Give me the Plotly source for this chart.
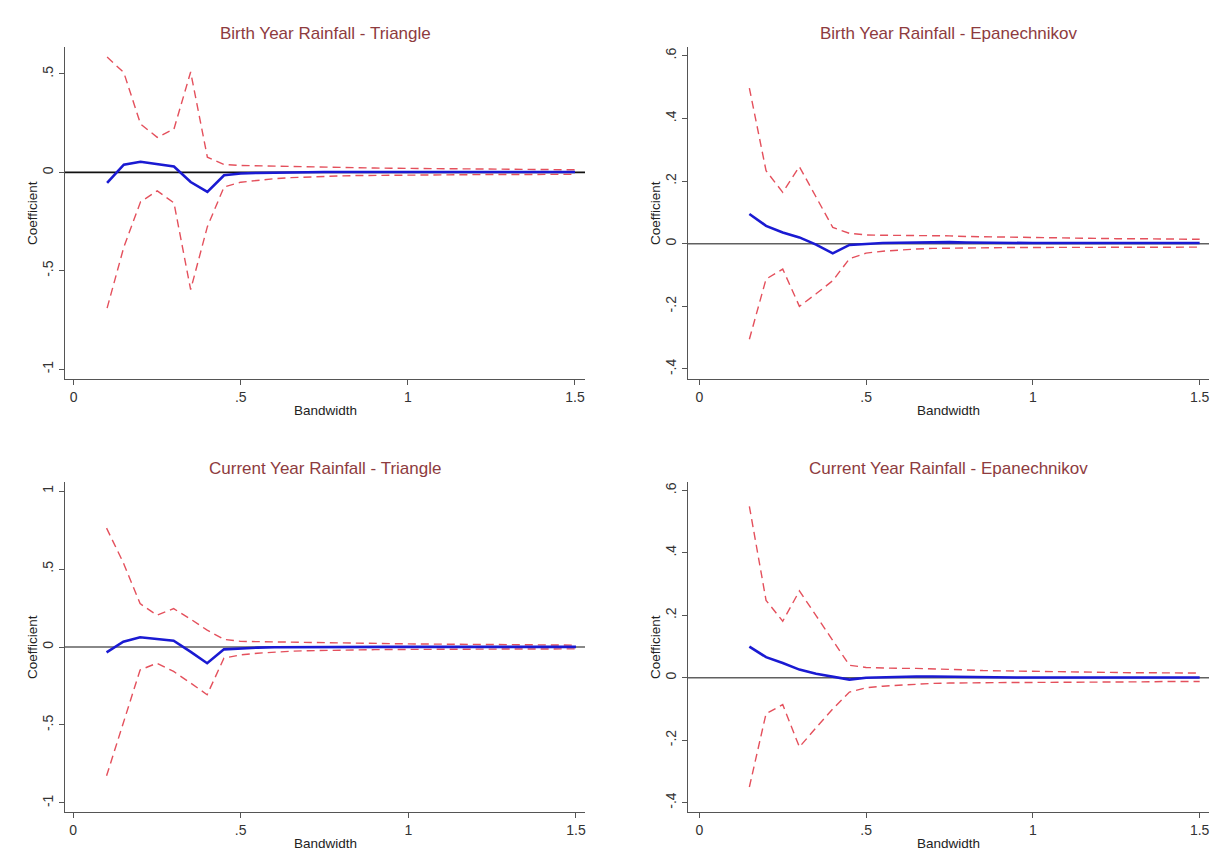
import plotly.graph_objects as go

# ---------------- data ----------------
bw_tri = [0.10, 0.15, 0.20, 0.25, 0.30, 0.35, 0.40, 0.45, 0.50, 0.55, 0.60, 0.65, 0.70, 0.75,
          0.80, 0.85, 0.90, 0.95, 1.00, 1.05, 1.10, 1.15, 1.20, 1.25, 1.30, 1.35, 1.40, 1.45, 1.50]
bw_epa = [0.15, 0.20, 0.25, 0.30, 0.35, 0.40, 0.45, 0.50, 0.55, 0.60, 0.65, 0.70, 0.75,
          0.80, 0.85, 0.90, 0.95, 1.00, 1.05, 1.10, 1.15, 1.20, 1.25, 1.30, 1.35, 1.40, 1.45, 1.50]

# Birth year rainfall - Triangle
birth_tri_coef = [-0.054, 0.039, 0.054, 0.043, 0.030, -0.049, -0.099, -0.015, -0.006, -0.003, -0.001, 0.000,
                  0.001, 0.002, 0.002, 0.002, 0.002, 0.002, 0.002, 0.002, 0.002, 0.002, 0.002, 0.002,
                  0.002, 0.002, 0.002, 0.002, 0.002]
birth_tri_hi = [0.586, 0.507, 0.246, 0.178, 0.220, 0.510, 0.077, 0.040, 0.035, 0.033, 0.031, 0.030,
                0.029, 0.027, 0.025, 0.023, 0.022, 0.021, 0.020, 0.019, 0.018, 0.017, 0.016, 0.016,
                0.015, 0.014, 0.014, 0.013, 0.013]
birth_tri_lo = [-0.690, -0.380, -0.150, -0.094, -0.155, -0.596, -0.276, -0.074, -0.050, -0.040, -0.032,
                -0.027, -0.023, -0.020, -0.018, -0.016, -0.015, -0.014, -0.013, -0.013, -0.012, -0.012,
                -0.011, -0.011, -0.011, -0.010, -0.010, -0.010, -0.010]

# Birth year rainfall - Epanechnikov
birth_epa_coef = [0.095, 0.057, 0.036, 0.020, -0.003, -0.031, -0.004, 0.000, 0.002, 0.003, 0.004, 0.005,
                  0.005, 0.004, 0.003, 0.003, 0.003, 0.002, 0.002, 0.002, 0.002, 0.002, 0.002, 0.002,
                  0.002, 0.002, 0.002, 0.002]
birth_epa_hi = [0.497, 0.233, 0.164, 0.246, 0.149, 0.052, 0.033, 0.028, 0.027, 0.027, 0.026, 0.026,
                0.025, 0.023, 0.022, 0.021, 0.020, 0.019, 0.019, 0.018, 0.017, 0.017, 0.016, 0.016,
                0.015, 0.015, 0.014, 0.014]
birth_epa_lo = [-0.305, -0.113, -0.081, -0.200, -0.160, -0.118, -0.048, -0.030, -0.024, -0.020, -0.017,
                -0.015, -0.014, -0.013, -0.013, -0.013, -0.012, -0.012, -0.012, -0.012, -0.012, -0.012,
                -0.012, -0.012, -0.011, -0.011, -0.011, -0.011]

# Current year rainfall - Triangle
curr_tri_coef = [-0.034, 0.034, 0.062, 0.050, 0.040, -0.030, -0.104, -0.015, -0.008, -0.004, -0.002, -0.001,
                 0.000, 0.001, 0.001, 0.001, 0.001, 0.001, 0.001, 0.001, 0.001, 0.001, 0.001, 0.001,
                 0.001, 0.001, 0.001, 0.001, 0.001]
curr_tri_hi = [0.762, 0.540, 0.278, 0.204, 0.246, 0.180, 0.108, 0.049, 0.036, 0.034, 0.032, 0.031,
               0.030, 0.028, 0.026, 0.024, 0.022, 0.021, 0.020, 0.019, 0.018, 0.017, 0.016, 0.015,
               0.014, 0.013, 0.013, 0.012, 0.012]
curr_tri_lo = [-0.826, -0.490, -0.147, -0.104, -0.157, -0.230, -0.306, -0.072, -0.050, -0.040, -0.032,
               -0.027, -0.024, -0.021, -0.019, -0.018, -0.017, -0.016, -0.015, -0.015, -0.014, -0.014,
               -0.014, -0.013, -0.013, -0.013, -0.013, -0.012, -0.012]

# Current year rainfall - Epanechnikov
curr_epa_coef = [0.100, 0.066, 0.047, 0.026, 0.013, 0.003, -0.006, 0.000, 0.002, 0.003, 0.004, 0.004,
                 0.003, 0.002, 0.002, 0.001, 0.001, 0.001, 0.001, 0.001, 0.001, 0.001, 0.001, 0.001,
                 0.001, 0.001, 0.001, 0.001]
curr_epa_hi = [0.549, 0.248, 0.181, 0.278, 0.199, 0.119, 0.040, 0.033, 0.031, 0.030, 0.030, 0.029,
               0.027, 0.025, 0.023, 0.022, 0.021, 0.020, 0.019, 0.018, 0.018, 0.017, 0.017, 0.016,
               0.016, 0.015, 0.015, 0.015]
curr_epa_lo = [-0.350, -0.115, -0.086, -0.222, -0.160, -0.100, -0.046, -0.032, -0.027, -0.024, -0.020,
               -0.018, -0.017, -0.016, -0.016, -0.016, -0.015, -0.015, -0.015, -0.014, -0.014, -0.014,
               -0.013, -0.013, -0.013, -0.012, -0.012, -0.012]

titles = ["Birth Year Rainfall - Triangle", "Birth Year Rainfall - Epanechnikov",
          "Current Year Rainfall - Triangle", "Current Year Rainfall - Epanechnikov"]
x_tickvals = [0, 0.5, 1, 1.5]
x_ticktext = ["0", ".5", "1", "1.5"]
y_tickvals_tri = [-1, -0.5, 0, 0.5]
y_ticktext_tri = ["-1", "-.5", "0", ".5"]
y_tickvals_tri2 = [-1, -0.5, 0, 0.5, 1]
y_ticktext_tri2 = ["-1", "-.5", "0", ".5", "1"]
y_tickvals_epa = [-0.4, -0.2, 0, 0.2, 0.4, 0.6]
y_ticktext_epa = ["-.4", "-.2", "0", ".2", ".4", ".6"]

# ---------------- figure ----------------
W, H = 1220, 868
FONT = "Liberation Sans, Arial, sans-serif"
BLUE = "#1a1ad2"
RED = "#e4505c"
TITLE_C = "#8e3b3e"

panels = [
    dict(x=bw_tri, c=birth_tri_coef, hi=birth_tri_hi, lo=birth_tri_lo,
         px=(65, 585), py=(47, 379), xr=[-0.026, 1.53], yr=[-1.05, 0.637],
         yt=(y_tickvals_tri, y_ticktext_tri), zc="#111111"),
    dict(x=bw_epa, c=birth_epa_coef, hi=birth_epa_hi, lo=birth_epa_lo,
         px=(688, 1209), py=(47, 379), xr=[-0.034, 1.528], yr=[-0.432, 0.628],
         yt=(y_tickvals_epa, y_ticktext_epa), zc="#606060"),
    dict(x=bw_tri, c=curr_tri_coef, hi=curr_tri_hi, lo=curr_tri_lo,
         px=(65, 585), py=(482, 812), xr=[-0.024, 1.527], yr=[-1.058, 1.058],
         yt=(y_tickvals_tri2, y_ticktext_tri2), zc="#606060"),
    dict(x=bw_epa, c=curr_epa_coef, hi=curr_epa_hi, lo=curr_epa_lo,
         px=(688, 1209), py=(482, 812), xr=[-0.034, 1.528], yr=[-0.43, 0.627],
         yt=(y_tickvals_epa, y_ticktext_epa), zc="#606060"),
]

fig = go.Figure()
layout = dict(width=W, height=H, margin=dict(l=0, r=0, t=0, b=0),
              paper_bgcolor="white", plot_bgcolor="white", showlegend=False,
              font=dict(family=FONT, color="#222"))
annotations = []
shapes = []

for i, p in enumerate(panels, start=1):
    xa = "x" if i == 1 else f"x{i}"
    ya = "y" if i == 1 else f"y{i}"
    for series, col, w, dash in [(p["hi"], RED, 1.4, "8px,5px"),
                                 (p["lo"], RED, 1.4, "8px,5px"),
                                 (p["c"], BLUE, 2.6, "solid")]:
        fig.add_trace(go.Scatter(x=p["x"], y=series, mode="lines", xaxis=xa, yaxis=ya,
                                 line=dict(color=col, width=w, dash=dash),
                                 hoverinfo="skip"))
    x0, x1 = p["px"]
    y0, y1 = p["py"]
    axstyle = dict(showline=True, linecolor="#555", linewidth=1.3, ticks="outside",
                   ticklen=5, tickcolor="#555", tickwidth=1.1, showgrid=False,
                   zeroline=False, tickfont=dict(size=14, color="#333", family=FONT),
                   mirror=False)
    layout[f"xaxis{i if i > 1 else ''}"] = dict(
        domain=[x0 / W, x1 / W], range=p["xr"], anchor=ya,
        tickmode="array", tickvals=x_tickvals, ticktext=x_ticktext, **axstyle)
    layout[f"yaxis{i if i > 1 else ''}"] = dict(
        domain=[1 - y1 / H, 1 - y0 / H], range=p["yr"], anchor=xa,
        tickmode="array", tickvals=p["yt"][0], ticktext=p["yt"][1], tickangle=-90,
        **axstyle)
    # zero reference line
    shapes.append(dict(type="line", xref=f"{xa} domain", yref=ya, x0=0, x1=1, y0=0, y1=0,
                       line=dict(color=p["zc"], width=1.6), layer="below"))
    cx = (x0 + x1) / 2 / W
    # panel title
    annotations.append(dict(text=titles[i - 1], xref="paper", yref="paper", x=cx,
                            y=1 - (y0 - 14) / H, showarrow=False, xanchor="center",
                            yanchor="middle", font=dict(size=17, color=TITLE_C, family=FONT)))
    # x axis title
    annotations.append(dict(text="Bandwidth", xref="paper", yref="paper", x=cx,
                            y=1 - (y1 + 31) / H, showarrow=False, xanchor="center",
                            yanchor="middle", font=dict(size=13.5, color="#222", family=FONT)))
    # y axis title
    annotations.append(dict(text="Coefficient", xref="paper", yref="paper",
                            x=(x0 - 33) / W, y=1 - (y0 + y1) / 2 / H, showarrow=False,
                            textangle=-90, xanchor="center", yanchor="middle",
                            font=dict(size=13.5, color="#222", family=FONT)))

layout["annotations"] = annotations
layout["shapes"] = shapes
fig.update_layout(**layout)
fig.write_html("out.html")
